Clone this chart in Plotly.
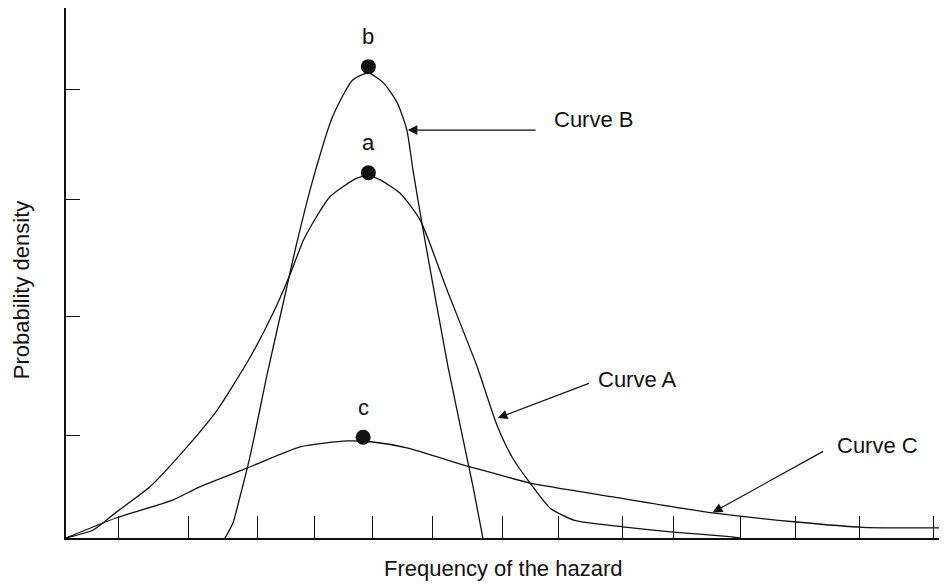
import plotly.graph_objects as go

# values (x: 0-100 along axis, y: 0-100 up the axis)
curve_a_x = [0, 3.1, 5.8, 9.6, 13.8, 17.3, 21.1, 23.7, 25.6, 27.3, 30.2, 33.3, 34.6, 35.9, 38.2,
             40.5, 43.6, 47.0, 49.3, 51.1, 53.1, 55.4, 58.2, 63.7, 69.5, 75.6, 77.1]
curve_a_y = [0, 1.5, 4.9, 9.6, 17.0, 24.0, 34.0, 42.2, 49.3, 56.3, 64.0, 67.5, 67.9, 67.2, 64.7,
             59.7, 46.5, 32.3, 21.2, 15.0, 10.3, 5.6, 3.3, 2.1, 1.1, 0.3, 0]

curve_b_x = [18.2, 19.1, 19.9, 21.1, 23.0, 24.8, 26.4, 28.3, 30.5, 32.8, 34.6, 36.3, 37.9,
             39.0, 39.7, 40.8, 43.7, 46.6, 47.7]
curve_b_y = [0, 2.8, 7.7, 15.6, 30.6, 43.7, 55.3, 67.5, 79.0, 85.9, 87.2, 85.4, 81.6,
             76.5, 69.0, 58.3, 32.2, 9.4, 0]

curve_c_x = [0, 5.8, 12.2, 15.3, 20.7, 26.8, 32.2, 35.1, 39.0, 45.9, 49.7, 53.1, 62.6, 74.0,
             83.6, 91.2, 100]
curve_c_y = [0, 3.8, 7.1, 9.6, 13.1, 17.1, 18.2, 18.0, 16.9, 13.5, 11.8, 10.3, 7.7, 4.7,
             3.0, 2.0, 1.9]

peak_labels = ["b", "a", "c"]
peak_x = [34.6, 34.6, 34.0]
peak_y = [88.4, 68.5, 18.9]

x_ticks = [6.0, 14.0, 21.9, 28.4, 35.1, 41.9, 49.9, 56.3, 63.7, 69.5, 77.2, 83.5, 90.8, 99.2]
y_ticks = [19.3, 41.5, 63.4, 84.2]

FONT = "Liberation Sans, Arial, sans-serif"
INK = "#111111"

fig = go.Figure()
for cx, cy in [(curve_a_x, curve_a_y), (curve_b_x, curve_b_y), (curve_c_x, curve_c_y)]:
    fig.add_trace(go.Scatter(x=cx, y=cy, mode="lines",
                             line=dict(color=INK, width=1.3, shape="spline", smoothing=0.6),
                             hoverinfo="skip", showlegend=False))

fig.add_trace(go.Scatter(x=peak_x, y=peak_y, mode="markers",
                         marker=dict(color=INK, size=15), showlegend=False))

# letters above the peaks
for lab, px, py in zip(peak_labels, peak_x, peak_y):
    fig.add_annotation(x=px, y=py + 5.6, text=lab, showarrow=False,
                       font=dict(family=FONT, size=22, color=INK))

# curve call-outs: arrow and label drawn separately
callouts = [
    ("Curve B", 60.3, 78.4, 53.9, 76.5, 39.1, 76.5),
    ("Curve A", 65.4, 29.8, 60.0, 29.1, 49.4, 22.5),
    ("Curve C", 92.8, 17.3, 86.8, 16.4, 74.0, 4.8),
]
for txt, tx, ty, ax0, ay0, hx, hy in callouts:
    fig.add_annotation(x=hx, y=hy, ax=ax0, ay=ay0, xref="x", yref="y", axref="x", ayref="y",
                       text="", showarrow=True, arrowhead=2, arrowsize=1.6, arrowwidth=1.2,
                       arrowcolor=INK)
    fig.add_annotation(x=tx, y=ty, text=txt, showarrow=False,
                       font=dict(family=FONT, size=22, color=INK))

fig.add_annotation(x=0.5, y=-0.057, xref="paper", yref="paper", xanchor="center", yanchor="middle",
                   text="Frequency of the hazard", showarrow=False,
                   font=dict(family=FONT, size=22, color=INK))
fig.add_annotation(x=-0.05, y=0.468, xref="paper", yref="paper", xanchor="center", yanchor="middle",
                   text="Probability density", textangle=-90, showarrow=False,
                   font=dict(family=FONT, size=22, color=INK))

# page has an 8px body margin, so the plot box is shifted back by that much
fig.update_xaxes(range=[0, 100], showgrid=False, zeroline=False, showline=True, linecolor=INK,
                 linewidth=1.5, ticks="inside", tickvals=x_ticks, ticklen=22, tickwidth=1.2,
                 tickcolor=INK, showticklabels=False)
fig.update_yaxes(range=[0, 99.4], showgrid=False, zeroline=False, showline=True, linecolor=INK,
                 linewidth=1.5, ticks="inside", tickvals=y_ticks, ticklen=14, tickwidth=1.2,
                 tickcolor=INK, showticklabels=False)

fig.update_layout(width=947, height=587, margin=dict(l=58, r=15, t=0, b=57),
                  plot_bgcolor="white", paper_bgcolor="white")

fig.write_html("out.html")
